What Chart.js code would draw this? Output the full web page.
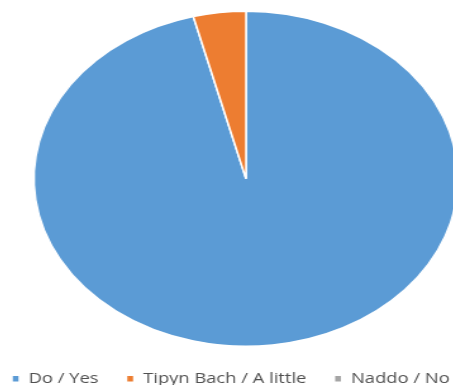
<!DOCTYPE html>
<html>
<head>
<meta charset="utf-8">
<script src="https://cdn.jsdelivr.net/npm/chart.js@4"></script>
<style>
  html, body { margin: 0; padding: 0; background: #fff; }
  #wrap { width: 453px; height: 385px; overflow: hidden; position: relative; }
</style>
</head>
<body>
<div id="wrap">
  <!-- the original picture is stretched sideways, so the canvas is too -->
  <canvas id="answersChart" width="414" height="396"
    style="position:absolute; left:-15.8px; top:0; width:523.9px; height:396px;"></canvas>
</div>
<script>
const answers = ['Do / Yes', 'Tipyn Bach / A little', 'Naddo / No'];
const shares = [96, 4, 0];
const sliceColours = ['#5B9BD5', '#ED7D31', '#A5A5A5'];

document.addEventListener('DOMContentLoaded', () => {
  const ctx = document.getElementById('answersChart');
  if (!ctx) return;

  new Chart(ctx, {
    type: 'pie',
    data: {
      labels: answers,
      datasets: [
        {
          data: shares,
          backgroundColor: sliceColours,
          borderColor: '#ffffff',
          borderWidth: 1.5,
          radius: 167.5
        }
      ]
    },
    options: {
      responsive: false,
      animation: false,
      devicePixelRatio: 1,
      layout: {
        padding: { top: 8 }
      },
      plugins: {
        legend: {
          position: 'bottom',
          align: 'start',
          labels: {
            boxWidth: 6,
            boxHeight: 7,
            padding: 22,
            color: '#505050',
            font: { family: '"Open Sans", sans-serif', size: 14.5 }
          }
        },
        tooltip: { enabled: false }
      }
    }
  });
});
</script>
</body>
</html>
